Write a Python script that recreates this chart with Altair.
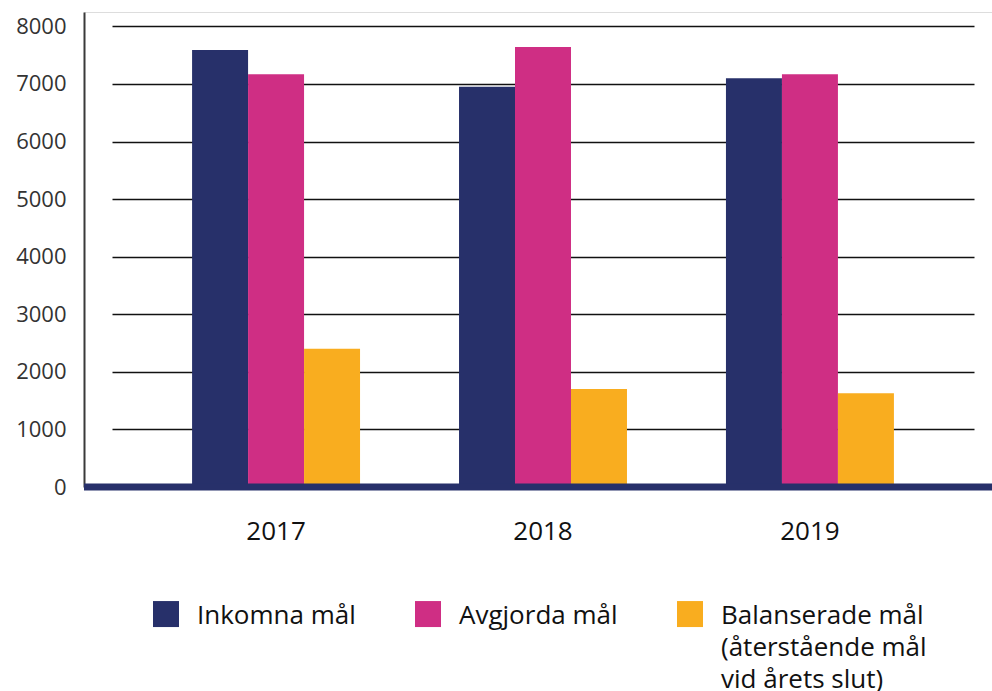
import altair as alt
import pandas as pd

years = ["2017", "2018", "2019"]
series = ["Inkomna mål", "Avgjorda mål", "Balanserade mål (återstående mål vid årets slut)"]
inkomna = [7590, 6950, 7100]
avgjorda = [7170, 7640, 7170]
balanserade = [2400, 1700, 1630]
colors = ["#27306a", "#cf2e84", "#f9ad1f"]
y_ticks = [0, 1000, 2000, 3000, 4000, 5000, 6000, 7000, 8000]
zero_line = [0]

rows = []
for i, yr in enumerate(years):
    for s, vals in zip(series, [inkomna, avgjorda, balanserade]):
        rows.append({"year": yr, "series": s, "value": vals[i]})
df = pd.DataFrame(rows)

label_expr = ("datum.label == 'Balanserade mål (återstående mål vid årets slut)' ? "
              "['Balanserade mål', '(återstående mål', 'vid årets slut)'] : "
              "[datum.label, ' ', ' ']")

FONT = "Open Sans"

bars = alt.Chart(df).mark_bar().encode(
    x=alt.X("year:N", sort=years,
            scale=alt.Scale(range=[28, 890], paddingInner=0.3708, paddingOuter=0.3),
            axis=alt.Axis(title=None, domain=False, ticks=False, labelAngle=0,
                          labelFontSize=26, labelColor="#111111", labelPadding=31,
                          labelFont=FONT)),
    xOffset=alt.XOffset("series:N", sort=series,
                        scale=alt.Scale(paddingInner=0, paddingOuter=0)),
    y=alt.Y("value:Q", scale=alt.Scale(domain=[0, 8250], nice=False),
            axis=alt.Axis(title=None, values=y_ticks, format="d", domain=True,
                          domainColor="#3a3a3a", domainWidth=2, ticks=False, grid=True,
                          gridColor="#111111", gridWidth=1.5, labelFontSize=22,
                          labelColor="#333333", labelPadding=18, labelFont=FONT)),
    color=alt.Color("series:N", sort=series,
                    scale=alt.Scale(domain=series, range=colors),
                    legend=alt.Legend(title=None, orient="none", legendX=69, legendY=578,
                                      columns=3, gridAlign="all", columnPadding=12,
                                      symbolType="M-1,-0.15H1V1.85H-1Z", symbolSize=676,
                                      symbolStrokeWidth=0, labelFontSize=26,
                                      labelColor="#111111", labelLimit=400, labelOffset=18,
                                      labelBaseline="top",
                                      labelFont=FONT, labelExpr=label_expr, padding=0)),
)

rule = alt.Chart(pd.DataFrame({"value": zero_line})).mark_rule(
    color="#27306a", strokeWidth=7
).encode(y=alt.Y("value:Q"))

chart = alt.layer(bars, rule).properties(
    width=908, height=475,
    padding={"left": 84, "top": 12, "right": 0, "bottom": 204},
    autosize=alt.AutoSizeParams(type="none"),
).configure_view(strokeWidth=0).configure(
    font=FONT, style={"guide-label": {"lineHeight": 32}}
)

chart.save("out.html", embed_options={"renderer": "svg", "actions": False})
